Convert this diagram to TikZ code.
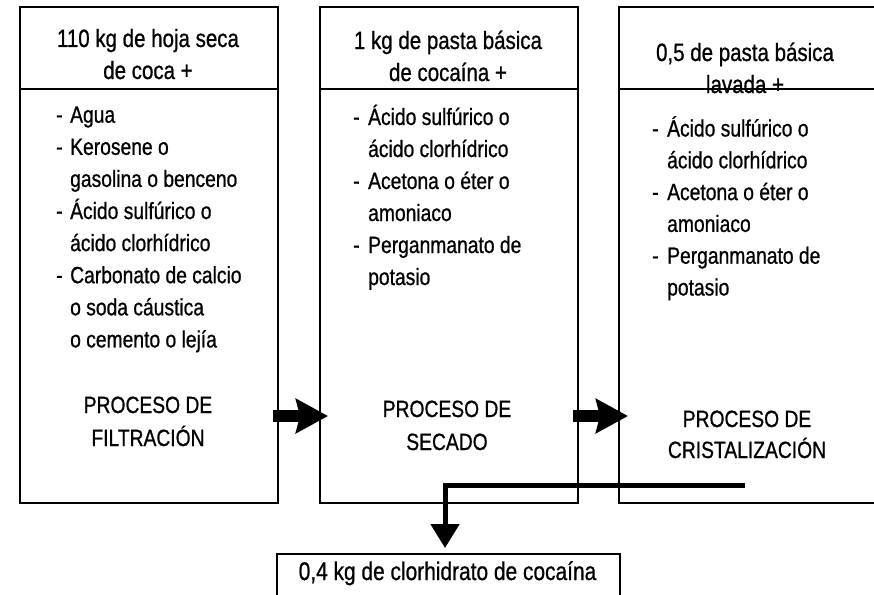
\documentclass[tikz,border=0pt]{standalone}
\usepackage{fontspec}
\setmainfont{Liberation Sans}[FakeStretch=0.82, FakeBold=0.8]
\usetikzlibrary{arrows.meta,calc}
\tikzset{
  bigbox/.style={draw, line width=2pt, minimum width=258pt, minimum height=496pt, anchor=north west, inner sep=0pt},
  outbox/.style={draw, line width=2pt, minimum width=343pt, minimum height=60pt, anchor=north west, inner sep=0pt},
  divider/.style={line width=2pt},
  hdr/.style={inner sep=0pt, anchor=base, font=\fontsize{25}{30}\selectfont},
  proc/.style={inner sep=0pt, anchor=base, font=\fontsize{23.5}{30}\selectfont},
  lst/.style={inner sep=0pt, anchor=base west, font=\fontsize{23.5}{30}\selectfont},
  outtxt/.style={inner sep=0pt, anchor=base, font=\fontsize{25.5}{30}\selectfont},
  bigarrow/.style={line width=12pt, -{Stealth[length=32pt 0 0, width=34pt 0 0, inset=4pt 0 0]}},
  elbow/.style={line width=5pt, -{Triangle[length=24pt 0 0, width=28pt 0 0]}}
}
\begin{document}
\begin{tikzpicture}[x=1pt,y=-1pt]
\useasboundingbox (0,0) rectangle (874,594);
% boxes
\node[bigbox] (b1) at (19,6) {};
\node[bigbox] (b2) at (319,6) {};
\node[bigbox] (b3) at (618,6) {};
\node[outbox] (out) at (276,553) {};
\draw[divider] (b1.west |- 0,89) -- (b1.east |- 0,89);
\draw[divider] (b2.west |- 0,89) -- (b2.east |- 0,89);
\draw[divider] (b3.west |- 0,89) -- (b3.east |- 0,89);
% headers
\node[hdr] (h1a) at (148,47) {110 kg de hoja seca};
\node[hdr] (h1b) at (148,79) {de coca +};
\node[hdr] (h2a) at (448,49) {1 kg de pasta básica};
\node[hdr] (h2b) at (448,81) {de cocaína +};
\node[hdr] (h3a) at (745,61) {0,5 de pasta básica};
\node[hdr] (h3b) at (745,93) {lavada +};
% lists
\foreach \d/\t [count=\i] in {-/Agua, -/Kerosene o, /gasolina o benceno, -/Ácido sulfúrico o, /ácido clorhídrico, -/Carbonato de calcio, /o soda cáustica, /o cemento o lejía}{
  \node[lst] (d1\i) at (56,{122.7+32.1*(\i-1)}) {\d};
  \node[lst] (t1\i) at (70,{122.7+32.1*(\i-1)}) {\t};
}
\foreach \d/\t [count=\i] in {-/Ácido sulfúrico o, /ácido clorhídrico, -/Acetona o éter o, /amoniaco, -/Perganmanato de, /potasio}{
  \node[lst] (d2\i) at (353,{125+32*(\i-1)}) {\d};
  \node[lst] (t2\i) at (368,{125+32*(\i-1)}) {\t};
}
\foreach \d/\t [count=\i] in {-/Ácido sulfúrico o, /ácido clorhídrico, -/Acetona o éter o, /amoniaco, -/Perganmanato de, /potasio}{
  \node[lst] (d3\i) at (652,{136.5+31.8*(\i-1)}) {\d};
  \node[lst] (t3\i) at (667,{136.5+31.8*(\i-1)}) {\t};
}
% process labels
\node[proc] (p1a) at (148,413) {PROCESO DE};
\node[proc] (p1b) at (148,446) {FILTRACIÓN};
\node[proc] (p2a) at (447,417) {PROCESO DE};
\node[proc] (p2b) at (447,450) {SECADO};
\node[proc] (p3a) at (747,427) {PROCESO DE};
\node[proc] (p3b) at (747,458) {CRISTALIZACIÓN};
% output
\node[outtxt] (o1) at (447.5,580) {0,4 kg de clorhidrato de cocaína};
% arrows
\draw[bigarrow] ($(b1.east |- 0,416)+(-6,0)$) -- ($(b2.west |- 0,416)+(9,0)$);
\draw[bigarrow] ($(b2.east |- 0,416)+(-6,0)$) -- ($(b3.west |- 0,416)+(10,0)$);
\coordinate (src) at (745,485);
\draw[elbow] (src) -| ($(out.north)+(-3.5,-5)$);
\end{tikzpicture}
\end{document}
